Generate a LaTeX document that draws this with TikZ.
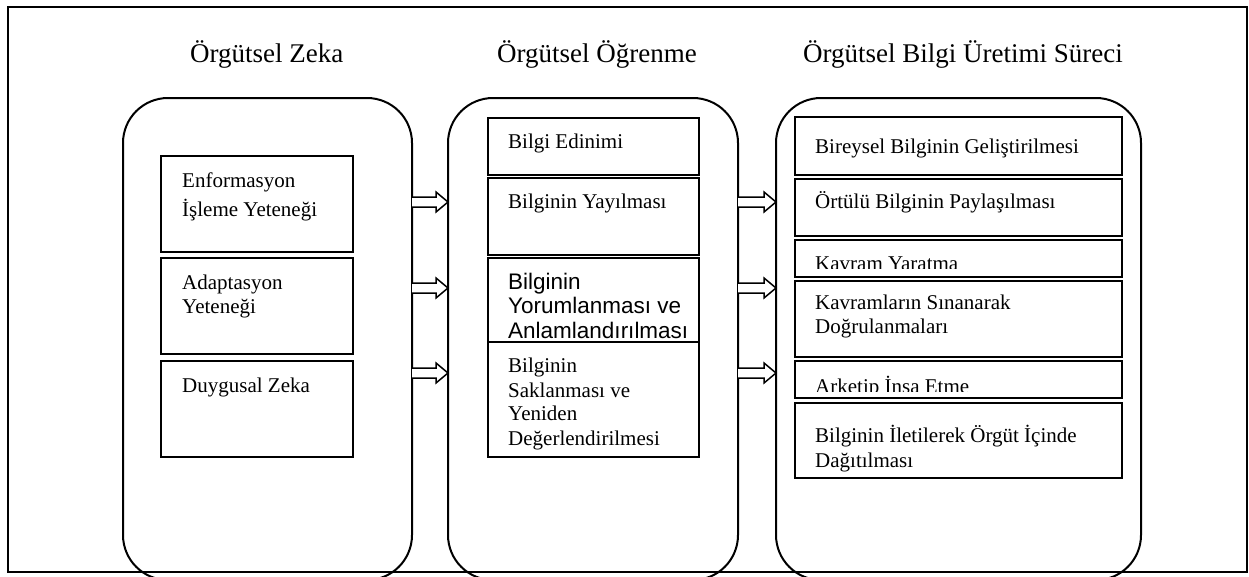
\documentclass[tikz,border=0pt]{standalone}
\usepackage{fontspec}
\setmainfont{Liberation Serif}
\newfontfamily\arialf{Liberation Sans}
\usetikzlibrary{calc}
\tikzset{
  frame/.style={draw, line width=2pt},
  column/.style={draw, line width=2pt, rounded corners=45pt, inner sep=0pt, outer sep=0pt},
  inbox/.style={draw, line width=1.7pt, inner sep=0pt, outer sep=0pt},
  txt/.style={anchor=base west, inner sep=0pt, font=\fontsize{21}{24}\selectfont},
  atxt/.style={anchor=base west, inner sep=0pt, font=\arialf\fontsize{22.5}{25}\selectfont},
  head/.style={anchor=base west, inner sep=0pt, font=\fontsize{27}{30}\selectfont},
  arr/.style={draw, line width=1.5pt, fill=white, line join=miter}
}
\newcommand\bx[5]{\node[inbox, minimum width={(#4-#2)*1pt}, minimum height={(#5-#3)*1pt}] (#1) at ({(#2+#4)/2},{(#3+#5)/2}) {};}
\newcommand\harrow[3]{\path[arr] let \p1=(#1.east), \p2=(#2.west) in
  (\x1,{#3-5}) -- ({\x2-12pt},{#3-5}) -- ({\x2-12pt},{#3-10}) -- (\x2,{#3}) -- ({\x2-12pt},{#3+10}) -- ({\x2-12pt},{#3+5}) -- (\x1,{#3+5});}
\begin{document}
\begin{tikzpicture}[x=1pt,y=-1pt]
\useasboundingbox (0,0) rectangle (1249,576);
\clip (0,0) rectangle (1249,576);
\node[frame, minimum width=1239pt, minimum height=565pt, inner sep=0pt] (frame) at (627.5,289.5) {};
% columns
\node[column, minimum width=289pt, minimum height=482pt] (c1) at (267.5,339) {};
\node[column, minimum width=290pt, minimum height=482pt] (c2) at (593,339) {};
\node[column, minimum width=365pt, minimum height=482pt] (c3) at (958.5,339) {};
% headers
\node[head] (h1) at (190,62) {Örgütsel Zeka};
\node[head] (h2) at (497,62) {Örgütsel Öğrenme};
\node[head] (h3) at (803,62) {Örgütsel Bilgi Üretimi Süreci};
% column 1 boxes
\bx{a1}{161}{156}{353}{252}
\bx{a2}{161}{258}{353}{354}
\bx{a3}{161}{361}{353}{457}
\node[txt] (ta1) at (182,187) {Enformasyon};
\node[txt] (ta1b) at (182,216) {İşleme Yeteneği};
\node[txt] (ta2) at (182,289) {Adaptasyon};
\node[txt] (ta2b) at (182,313) {Yeteneği};
\node[txt] (ta3) at (182,392) {Duygusal Zeka};
% column 2 boxes
\bx{b1}{488}{118}{699}{175}
\bx{b2}{488}{178}{699}{255}
\bx{b3}{488}{258}{699}{342}
\bx{b4}{488}{342}{699}{457}
\node[txt] (tb1) at (508,148) {Bilgi Edinimi};
\node[txt] (tb2) at (508,208) {Bilginin Yayılması};
\node[atxt] (tb3) at (508,289) {Bilginin};
\node[atxt] (tb3b) at (508,313) {Yorumlanması ve};
\node[atxt] (tb3c) at (508,338) {Anlamlandırılması};
\node[txt] (tb4) at (508,372) {Bilginin};
\node[txt] (tb4b) at (508,397) {Saklanması ve};
\node[txt] (tb4c) at (508,420) {Yeniden};
\node[txt] (tb4d) at (508,445) {Değerlendirilmesi};
% column 3 boxes
\bx{d1}{795}{117}{1122}{175}
\bx{d2}{795}{179}{1122}{236}
\bx{d3}{795}{240}{1122}{277}
\bx{d4}{795}{281}{1122}{357}
\bx{d5}{795}{361}{1122}{398}
\bx{d6}{795}{403}{1122}{478}
\node[txt] (td1) at (815,153) {Bireysel Bilginin Geliştirilmesi};
\node[txt] (td2) at (815,208) {Örtülü Bilginin Paylaşılması};
\begin{scope}
\clip (795,240) rectangle (1122,268);
\node[txt] (td3) at (815,270) {Kavram Yaratma};
\end{scope}
\node[txt] (td4) at (815,309) {Kavramların Sınanarak};
\node[txt] (td4b) at (815,333) {Doğrulanmaları};
\begin{scope}
\clip (795,361) rectangle (1122,391);
\node[txt] (td5) at (815,393) {Arketip İnşa Etme};
\end{scope}
\node[txt] (td6) at (815,442) {Bilginin İletilerek Örgüt İçinde};
\node[txt] (td6b) at (815,467) {Dağıtılması};
% arrows
\harrow{c1}{c2}{202}
\harrow{c1}{c2}{288}
\harrow{c1}{c2}{373}
\harrow{c2}{c3}{202}
\harrow{c2}{c3}{288}
\harrow{c2}{c3}{373}
\end{tikzpicture}
\end{document}
